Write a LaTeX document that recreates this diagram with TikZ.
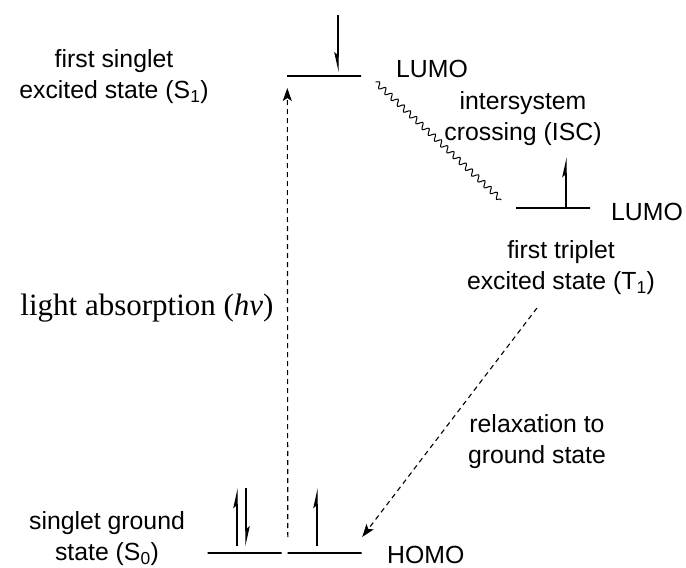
\documentclass[tikz,border=0pt]{standalone}
\usepackage{fontspec}
\setmainfont{Liberation Sans}
\newfontfamily\timesfont{Liberation Serif}
\usetikzlibrary{arrows.meta,decorations.pathmorphing}

\begin{document}
\begin{tikzpicture}[x=1pt,y=-1pt,
		every node/.style={font=\fontsize{24.8}{31}\selectfont, align=center, inner sep=0pt},
		level/.style={draw, line width=1.4pt, minimum width=74pt, minimum height=0pt},
		spin/.style={line width=1.4pt, -{Stealth[harpoon,length=17pt,width=7.5pt,inset=3pt]}},
		spinswap/.style={line width=1.4pt, -{Stealth[harpoon,swap,length=17pt,width=7.5pt,inset=3pt]}},
		transition/.style={line width=1.1pt, dash pattern=on 5pt off 4pt, -{Stealth[length=13pt,width=9pt,inset=3pt]}}]
	\useasboundingbox (0,0) rectangle (686,568);

	\node[level] (S1) at (324,76) {};
	\node[level] (T1) at (553,208) {};
	\node[level] (S0a) at (244.5,553) {};
	\node[level] (S0b) at (324.5,553) {};

	\coordinate (s1top) at (338,15);
	\coordinate (t1top) at (566,157);
	\coordinate (s0atop) at (237,488);
	\coordinate (s0adown) at (246,488);
	\coordinate (s0btop) at (317,488);
	\draw[spinswap] (s1top) -- ([xshift=14pt,yshift=3pt]S1.north);
	\draw[spin] ([xshift=13pt]T1.north) -- (t1top);
	\draw[spin] ([xshift=-7.5pt,yshift=6pt]S0a.north) -- (s0atop);
	\draw[spin] (s0adown) -- ([xshift=1.5pt,yshift=6pt]S0a.north);
	\draw[spin] ([xshift=-7.5pt,yshift=6pt]S0b.north) -- (s0btop);

	\draw[transition] ([xshift=1pt,yshift=16pt]S0b.west) -- ([xshift=1pt,yshift=-12pt]S1.west);
	\draw[line width=1pt, decorate, decoration={snake, amplitude=2.8pt, segment length=8.5pt}]
		([xshift=14pt,yshift=-6pt]S1.east) -- ([xshift=-14pt,yshift=8pt]T1.west);
	\coordinate (t1out) at (537,308);
	\draw[transition] (t1out) -- ([yshift=16pt]S0b.east);

	\node (S1name) at (114,77) {first singlet\\excited state (S\textsubscript{1})};
	\node[anchor=base west] (S1lumo) at (396,77) {LUMO};
	\node (isc) at (523,119) {intersystem\\crossing (ISC)};
	\node[anchor=base west] (T1lumo) at (611,220) {LUMO};
	\node (T1name) at (561,268) {first triplet\\excited state (T\textsubscript{1})};
	\node[anchor=base, font=\timesfont\fontsize{31}{36}\selectfont] (hv) at (147,315) {light absorption (\textit{hv})};
	\node (relax) at (537,442) {relaxation to\\ground state};
	\node (S0name) at (107,539) {singlet ground\\state (S\textsubscript{0})};
	\node[anchor=base west] (homo) at (387,563) {HOMO};
\end{tikzpicture}
\end{document}
